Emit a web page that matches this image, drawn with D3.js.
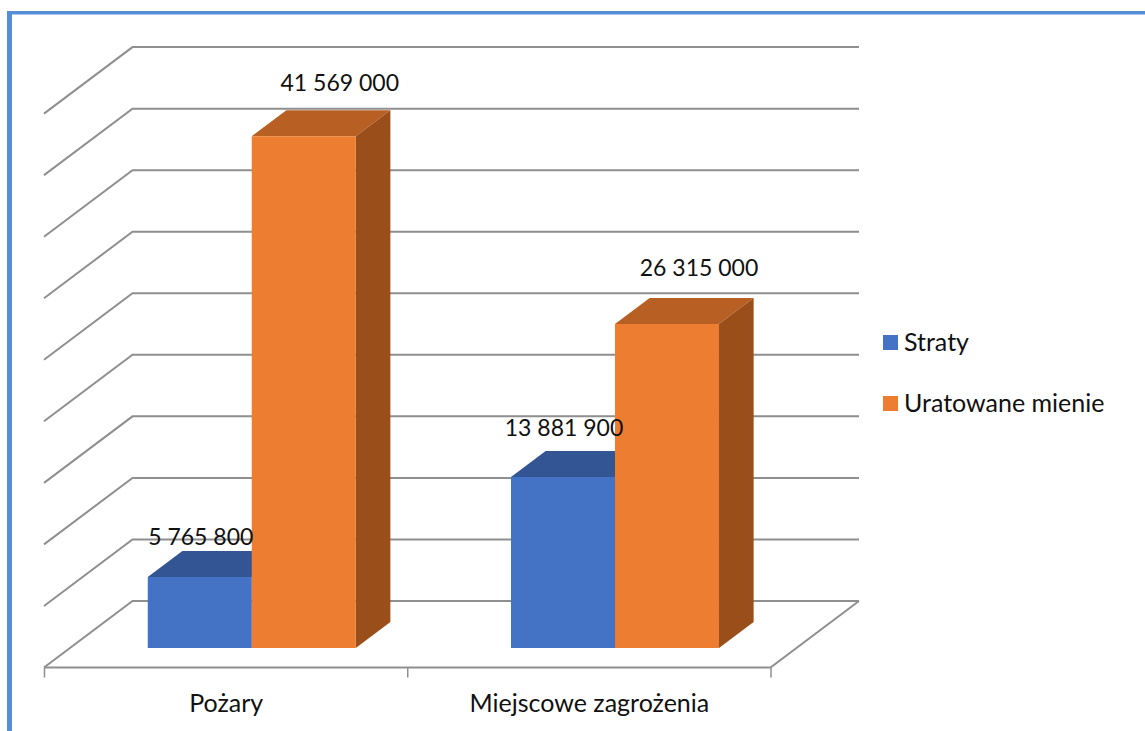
<!DOCTYPE html>
<html>
<head>
<meta charset="utf-8">
<script src="https://cdn.jsdelivr.net/npm/d3@7"></script>
<style>
  html, body { margin: 0; padding: 0; background: #fff; }
  svg { display: block; }
  text { font-family: Lato, "Open Sans", sans-serif; font-size: 23px; fill: #111; }
  text.cat, .legend text { font-size: 25px; }
</style>
</head>
<body>
<svg width="1145" height="731"></svg>
<script>
var categories = ["Pożary", "Miejscowe zagrożenia"];
var seriesNames = ["Straty", "Uratowane mienie"];
var straty = [5765800, 13881900];
var uratowane = [41569000, 26315000];
var valueTicks = [0, 5e6, 10e6, 15e6, 20e6, 25e6, 30e6, 35e6, 40e6, 45e6];

var frontColors = ["#4472c4", "#ed7d31"],
    topColors = ["#335593", "#b85f23"],
    sideColors = ["#2a4675", "#9a4e19"];

var svg = d3.select("svg");

var x = d3.scaleBand().domain(categories).range([44, 770.5]);
var bar = d3.scaleBand().domain(seriesNames).range([77.75, 285.75]);
var y = d3.scaleLinear().domain([0, 45e6]).range([667.5, 113.6]);

// oblique projection: depth 0 is the front of the floor, 1 is the back wall
var depthX = d3.scaleLinear().domain([0, 1]).range([0, 88.5]);
var depthY = d3.scaleLinear().domain([0, 1]).range([0, -66.5]);
var barFront = 0.294, barBack = 0.685;

var line = d3.line();

function pt(px, value, depth) {
  return [px + depthX(depth), y(value) + depthY(depth)];
}

// frame of the slide
svg.append("rect").attr("x", 7).attr("y", 11).attr("width", 1138).attr("height", 3.5).attr("fill", "#558ed5");
svg.append("rect").attr("x", 7).attr("y", 11).attr("width", 5).attr("height", 720).attr("fill", "#558ed5");

// walls
var grid = svg.append("g").attr("fill", "none").attr("stroke", "#8f8f8f").attr("stroke-width", 2);
grid.selectAll("path.wall")
  .data(valueTicks)
  .enter().append("path")
  .attr("class", "wall")
  .attr("d", function (d) {
    return line([pt(x.range()[0], d, 0), pt(x.range()[0], d, 1), pt(x.range()[1], d, 1)]);
  });

// floor
grid.append("path").attr("d", line([
  pt(x.range()[0], 0, 0), pt(x.range()[1], 0, 0), pt(x.range()[1], 0, 1)
]));
var axisTicks = categories.map(function (c) { return x(c); }).concat(x.range()[1]);
grid.selectAll("line.tick")
  .data(axisTicks)
  .enter().append("line")
  .attr("class", "tick")
  .attr("stroke-width", 1.5)
  .attr("x1", function (d) { return d + 0.5; })
  .attr("x2", function (d) { return d + 0.5; })
  .attr("y1", y(0))
  .attr("y2", y(0) + 10);

// bars, first series first so the next one hides its side
var rows = [];
seriesNames.forEach(function (s, si) {
  var values = si === 0 ? straty : uratowane;
  categories.forEach(function (c, ci) {
    rows.push({ cat: c, series: s, si: si, ci: ci, value: values[ci] });
  });
});

var bars = svg.selectAll("g.bar")
  .data(rows)
  .enter().append("g")
  .attr("class", "bar");

function corners(d) {
  var x0 = x(d.cat) + bar(d.series), x1 = x0 + bar.bandwidth();
  return { x0: x0, x1: x1 };
}

bars.append("path")
  .attr("fill", function (d) { return topColors[d.si]; })
  .attr("d", function (d) {
    var c = corners(d);
    return line([pt(c.x0, d.value, barFront), pt(c.x1, d.value, barFront),
      pt(c.x1, d.value, barBack), pt(c.x0, d.value, barBack)]) + "Z";
  });
bars.append("path")
  .attr("fill", function (d) { return sideColors[d.si]; })
  .attr("d", function (d) {
    var c = corners(d);
    return line([pt(c.x1, 0, barFront), pt(c.x1, d.value, barFront),
      pt(c.x1, d.value, barBack), pt(c.x1, 0, barBack)]) + "Z";
  });
bars.append("path")
  .attr("fill", function (d) { return frontColors[d.si]; })
  .attr("d", function (d) {
    var c = corners(d);
    return line([pt(c.x0, 0, barFront), pt(c.x1, 0, barFront),
      pt(c.x1, d.value, barFront), pt(c.x0, d.value, barFront)]) + "Z";
  });

// data labels sit by hand above the bars in the original
var labelFormat = function (v) { return d3.format(",")(v).replace(/,/g, " "); };
var labelShift = { "0-0": [1, -32], "1-0": [1, -41], "0-1": [36, -45], "1-1": [32, -48] };

svg.selectAll("text.label")
  .data(rows)
  .enter().append("text")
  .attr("class", "label")
  .attr("text-anchor", "middle")
  .attr("x", function (d) {
    var c = corners(d);
    return pt((c.x0 + c.x1) / 2, d.value, barFront)[0] + labelShift[d.ci + "-" + d.si][0];
  })
  .attr("y", function (d) {
    return pt(0, d.value, barFront)[1] + labelShift[d.ci + "-" + d.si][1];
  })
  .text(function (d) { return labelFormat(d.value); });

// category labels
svg.selectAll("text.cat")
  .data(categories)
  .enter().append("text")
  .attr("class", "cat")
  .attr("text-anchor", "middle")
  .attr("x", function (d) { return x(d) + x.bandwidth() / 2 + 0.5; })
  .attr("y", 712)
  .text(function (d) { return d; });

// legend
var legend = svg.selectAll("g.legend")
  .data(seriesNames)
  .enter().append("g")
  .attr("class", "legend")
  .attr("transform", function (d, i) { return "translate(883," + (335 + i * 61) + ")"; });
legend.append("rect")
  .attr("width", 15).attr("height", 15)
  .attr("fill", function (d, i) { return frontColors[i]; });
legend.append("text")
  .attr("x", 21).attr("y", 16)
  .text(function (d) { return d; });
</script>
</body>
</html>
